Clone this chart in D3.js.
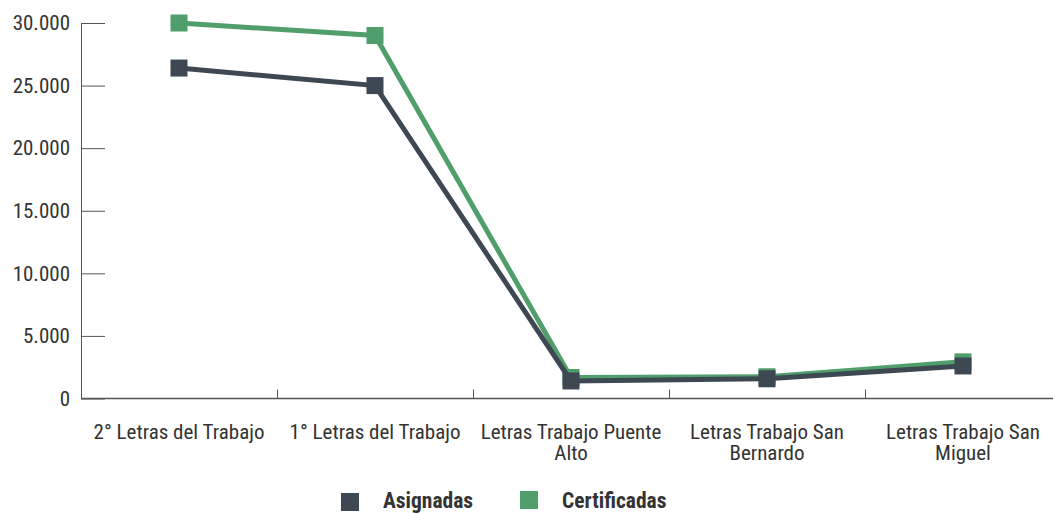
<!DOCTYPE html>
<html>
<head>
<meta charset="utf-8">
<script src="https://cdn.jsdelivr.net/npm/d3@7"></script>
<style>
  body { margin: 0; background: #fff; }
  text { font-family: "Liberation Sans Narrow", "Roboto Condensed", Lato, sans-serif; fill: #333; }
</style>
</head>
<body>
<div class="chart_area"></div>
<script>
var categories = ["2° Letras del Trabajo", "1° Letras del Trabajo", "Letras Trabajo Puente Alto",
                  "Letras Trabajo San Bernardo", "Letras Trabajo San Miguel"];
var asignadas = [26400, 25000, 1400, 1575, 2600];
var certificadas = [30000, 29000, 1680, 1740, 2930];
var yTicks = [0, 5000, 10000, 15000, 20000, 25000, 30000];
var seriesNames = ["Asignadas", "Certificadas"];
var seriesColors = ["#3e4853", "#519e6d"];

var width = 1053, height = 514;

var svg = d3.select(".chart_area")
    .append("svg")
    .attr("width", width)
    .attr("height", height);

var x = d3.scaleBand().domain(categories).range([81, 1061]).padding(0);
var y = d3.scaleLinear().domain([0, 30000]).range([398.5, 23]);

var es = d3.formatLocale({ decimal: ",", thousands: ".", grouping: [3], currency: ["$", ""] });

// y axis, ticks pointing into the plot
var yAxis = svg.append("g")
    .attr("transform", "translate(81,0)")
    .call(d3.axisLeft(y).tickValues(yTicks).tickSizeInner(-24).tickSizeOuter(0)
        .tickPadding(11).tickFormat(es.format(",")));
yAxis.select(".domain").attr("stroke", "#555");
yAxis.selectAll(".tick line").attr("stroke", "#555");
yAxis.selectAll("text").style("font-size", "21px").attr("fill", "#333");

// x axis line
svg.append("line")
    .attr("x1", 81).attr("x2", width)
    .attr("y1", y(0)).attr("y2", y(0))
    .attr("stroke", "#555").attr("stroke-width", 1.5);

// boundary ticks
svg.append("g").selectAll("line")
    .data(categories.slice(1))
    .enter()
    .append("line")
    .attr("x1", function(d){ return x(d) + 0.5; })
    .attr("x2", function(d){ return x(d) + 0.5; })
    .attr("y1", y(0)).attr("y2", y(0) - 9)
    .attr("stroke", "#555");

// x labels
var xAxis = svg.append("g")
    .attr("transform", "translate(0," + y(0) + ")")
    .call(d3.axisBottom(x).tickSize(0));
xAxis.select(".domain").remove();
xAxis.selectAll("text").style("font-size", "21px").attr("fill", "#333").call(wrap, 185);

function wrap(texts, w) {
  texts.each(function() {
    var t = d3.select(this), words = t.text().split(" "), line = [], lines = [];
    words.forEach(function(word) {
      line.push(word);
      t.text(line.join(" "));
      if (t.node().getComputedTextLength() > w && line.length > 1) {
        line.pop();
        lines.push(line.join(" "));
        line = [word];
      }
    });
    lines.push(line.join(" "));
    t.text(null).attr("y", 0).attr("dy", null);
    lines.forEach(function(l, i) {
      t.append("tspan").attr("x", 0).attr("y", 40 + i * 21).text(l);
    });
  });
}

// Certificadas drawn first, Asignadas on top
var series = [asignadas, certificadas];
var line = d3.line()
    .x(function(d, i){ return x(categories[i]) + x.bandwidth() / 2; })
    .y(function(d){ return y(d); });

[1, 0].forEach(function(s) {
  var vals = series[s];
  var g = svg.append("g");
  g.append("path")
    .datum(vals)
    .attr("fill", "none")
    .attr("stroke", seriesColors[s])
    .attr("stroke-width", 5)
    .attr("d", line);
  g.selectAll("rect")
    .data(vals)
    .enter()
    .append("rect")
    .attr("x", function(d, i){ return x(categories[i]) + x.bandwidth() / 2 - 8.5; })
    .attr("y", function(d){ return y(d) - 8.5; })
    .attr("width", 17).attr("height", 17)
    .attr("fill", seriesColors[s]);
});

// legend
var legend = svg.append("g");
var legX = [341, 520];
seriesNames.forEach(function(n, i) {
  legend.append("rect")
    .attr("x", legX[i]).attr("y", 493 - i * 2)
    .attr("width", 18).attr("height", 18)
    .attr("fill", seriesColors[i]);
  legend.append("text")
    .attr("x", legX[i] + 42).attr("y", 508)
    .style("font-size", "21.5px").style("font-weight", "bold")
    .attr("fill", "#333")
    .text(n);
});
</script>
</body>
</html>
